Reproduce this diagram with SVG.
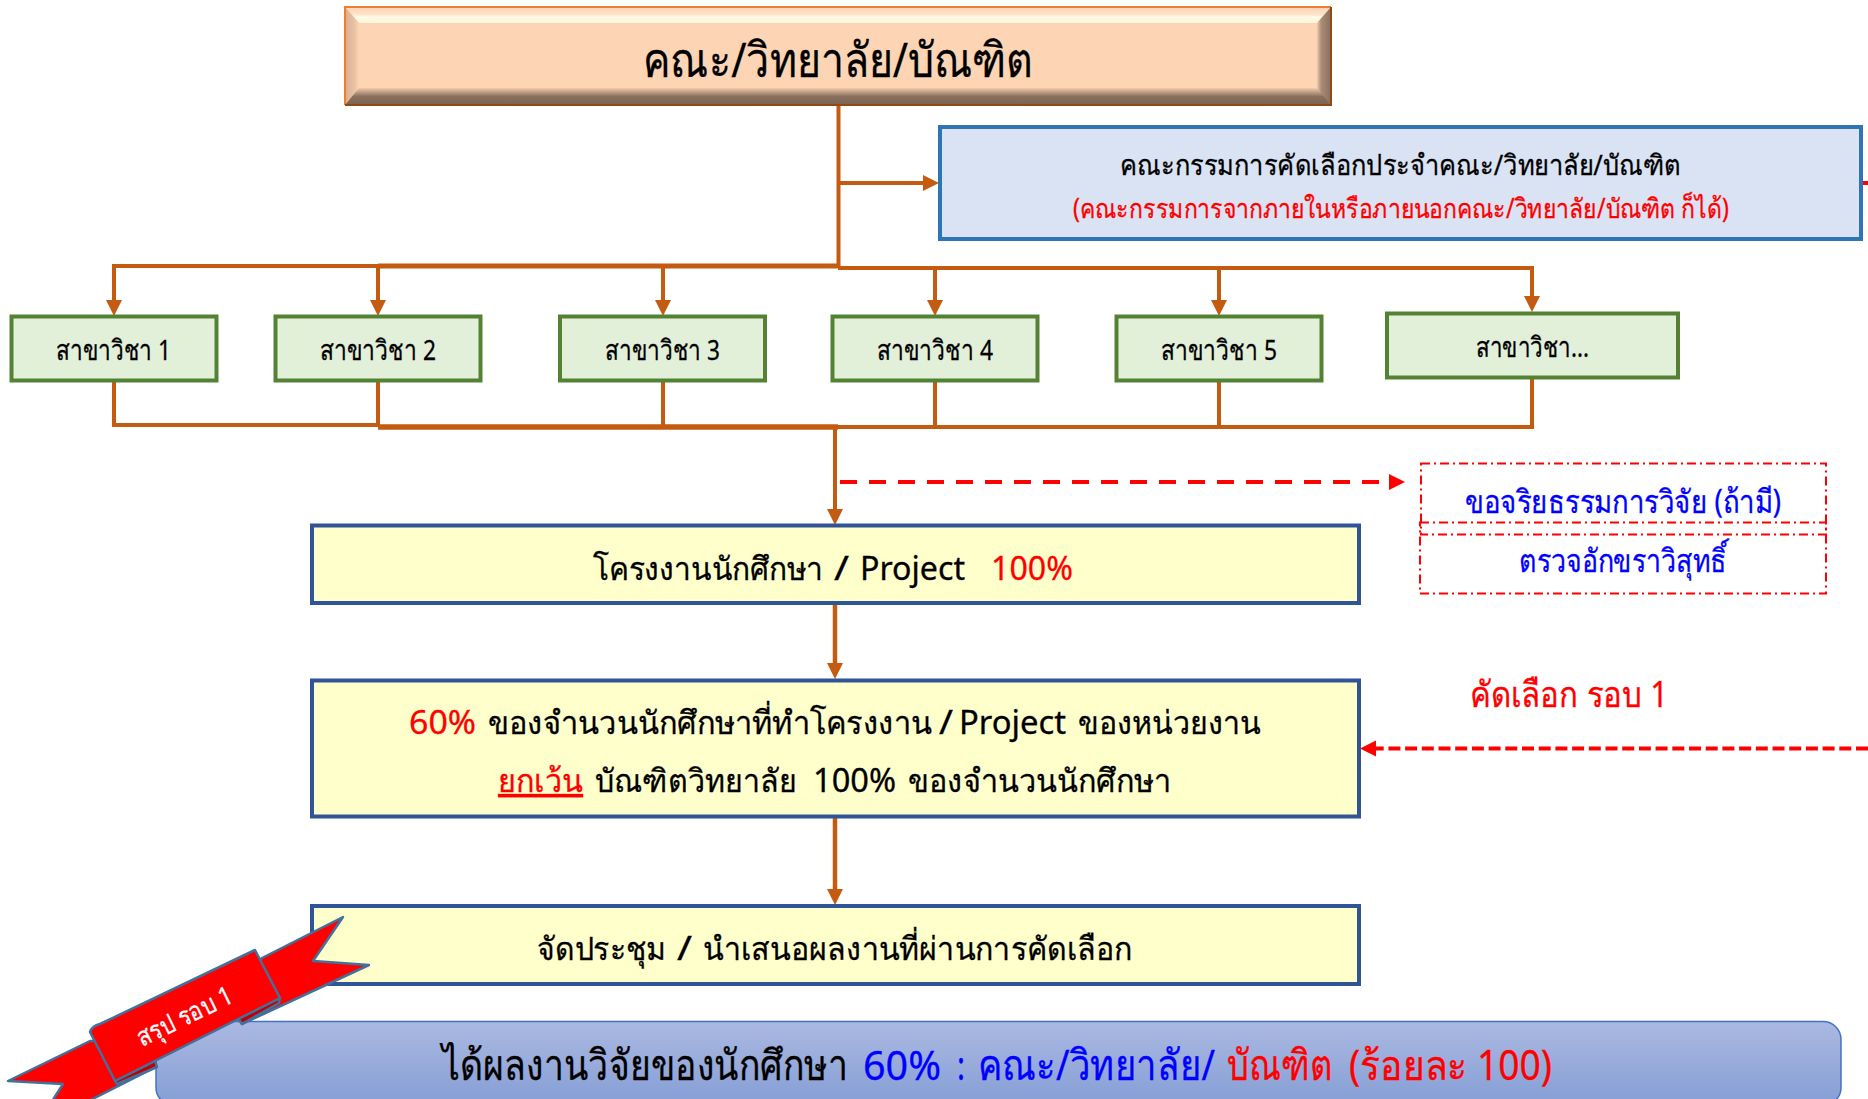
<svg xmlns="http://www.w3.org/2000/svg" width="1868" height="1099" viewBox="0 0 1868 1099">
<style>
text{font-family:"Noto Sans","DejaVu Sans","Liberation Sans",sans-serif;fill:#000;stroke:#000;stroke-width:.3}
text.r{fill:#f00;stroke:#f00}
text.b{fill:#00f;stroke:#00f}
.g rect{fill:#e2efd9;stroke:#548235;stroke-width:4}
.y rect{fill:#ffffcc;stroke:#2f5597;stroke-width:4}
.y text{font-size:32px}
.c{fill:none;stroke:#c55a11;stroke-width:4}
.dd{fill:none;stroke:#ff0000;stroke-width:2;stroke-dasharray:9 4 2 4}
</style>
<defs>
<marker id="a" markerUnits="userSpaceOnUse" markerWidth="17" markerHeight="17" refX="6" refY="8" orient="auto"><path d="M0 0L16 8L0 16Z" fill="#c55a11"/></marker>
<marker id="ar" markerUnits="userSpaceOnUse" markerWidth="17" markerHeight="17" refX="6" refY="8" orient="auto"><path d="M0 0L16 8L0 16Z" fill="#ff0000"/></marker>
<marker id="ar2" markerUnits="userSpaceOnUse" markerWidth="17" markerHeight="17" refX="-10" refY="8" orient="auto" overflow="visible"><path d="M0 0L16 8L0 16Z" fill="#ff0000"/></marker>
<linearGradient id="bg" x1="0" y1="1021" x2="0" y2="1099" gradientUnits="userSpaceOnUse"><stop offset="0" stop-color="#abb9e1"/><stop offset="1" stop-color="#88a0d6"/></linearGradient>
<linearGradient id="bt" x1="0" y1="0" x2="0" y2="1"><stop offset="0" stop-color="#fbd3b2"/><stop offset=".45" stop-color="#fee2c8"/><stop offset=".62" stop-color="#fffbe6"/><stop offset="1" stop-color="#fff6dc"/></linearGradient>
<linearGradient id="bb" x1="0" y1="0" x2="0" y2="1"><stop offset="0" stop-color="#f3cbac"/><stop offset=".2" stop-color="#c9a58b"/><stop offset=".5" stop-color="#89705f"/><stop offset="1" stop-color="#7a6353"/></linearGradient>
<linearGradient id="br" x1="0" y1="0" x2="1" y2="0"><stop offset="0" stop-color="#f0c9ab"/><stop offset=".3" stop-color="#a98c78"/><stop offset="1" stop-color="#8a6f5c"/></linearGradient>
<linearGradient id="bl" x1="0" y1="0" x2="1" y2="0"><stop offset="0" stop-color="#d8ae92"/><stop offset=".7" stop-color="#eac3a5"/><stop offset="1" stop-color="#fdd5b4"/></linearGradient>
</defs>
<g id="connectors">
<path class="c" d="M838.5 105V268"/>
<path class="c" d="M838.5 183H929" marker-end="url(#a)"/>
<path class="c" d="M838 266H114V306" marker-end="url(#a)"/>
<path class="c" d="M378 266V306" marker-end="url(#a)"/>
<path class="c" style="stroke-width:5" d="M378 266H838"/>
<path class="c" d="M663 267V306" marker-end="url(#a)"/>
<path class="c" d="M838 268H1532V302" marker-end="url(#a)"/>
<path class="c" d="M935 268V306" marker-end="url(#a)"/>
<path class="c" d="M1219 268V306" marker-end="url(#a)"/>
<path class="c" d="M114 380V425H378"/>
<path class="c" d="M378 380V427"/>
<path class="c" style="stroke-width:5.5" d="M378 427H838"/>
<path class="c" d="M663 380V427"/>
<path class="c" d="M935 380V427"/>
<path class="c" d="M1219 380V427"/>
<path class="c" d="M1532 377V427H838"/>
<path class="c" d="M835 427V515" marker-end="url(#a)"/>
<path class="c" style="stroke-width:4.5" d="M835 603V669" marker-end="url(#a)"/>
<path class="c" style="stroke-width:4.5" d="M835 816V895" marker-end="url(#a)"/>
<path d="M840 482H1379" fill="none" stroke="#ff0000" stroke-width="4" stroke-dasharray="17 12" marker-end="url(#ar2)"/>
<path d="M1868 748.500H1370" fill="none" stroke="#ff0000" stroke-width="4" stroke-dasharray="12 4.700" marker-end="url(#ar)"/>
<path d="M1862 183H1868" stroke="#ff0000" stroke-width="4"/>
</g>
<g id="top">
<rect x="345" y="7" width="986" height="98" fill="#fdd5b4"/>
<path d="M345 7H1331L1317 23H359Z" fill="url(#bt)"/>
<path d="M345 7L359 23V90L345 105Z" fill="url(#bl)"/>
<path d="M1331 7L1317 23V90L1331 105Z" fill="url(#br)"/>
<path d="M345 105L359 88H1317L1331 105Z" fill="url(#bb)"/>
<path d="M345 105V7H1331" fill="none" stroke="#ee7d31" stroke-width="2"/>
<path d="M1331 7V105H345" fill="none" stroke="#8f4a14" stroke-width="2"/>
<text x="643" y="77" font-size="48" textLength="390" lengthAdjust="spacingAndGlyphs">คณะ/วิทยาลัย/บัณฑิต</text>
</g>
<g id="committee">
<rect x="940" y="127" width="921" height="112" fill="#dae3f3" stroke="#2e75b6" stroke-width="4"/>
<text x="1120" y="175" font-size="28" textLength="560" lengthAdjust="spacingAndGlyphs">คณะกรรมการคัดเลือกประจำคณะ/วิทยาลัย/บัณฑิต</text>
<text x="1073" y="218" font-size="27" class="r" textLength="656" lengthAdjust="spacingAndGlyphs">(คณะกรรมการจากภายในหรือภายนอกคณะ/วิทยาลัย/บัณฑิต ก็ได้)</text>
</g>
<g id="dept1" class="g"><rect x="11.5" y="316.500" width="205" height="64"/><text x="56" y="360" font-size="28" textLength="115" lengthAdjust="spacingAndGlyphs">สาขาวิชา 1</text></g>
<g id="dept2" class="g"><rect x="275.5" y="316.500" width="205" height="64"/><text x="320" y="360" font-size="28" textLength="116" lengthAdjust="spacingAndGlyphs">สาขาวิชา 2</text></g>
<g id="dept3" class="g"><rect x="560" y="316.500" width="205" height="64"/><text x="605" y="360" font-size="28" textLength="115" lengthAdjust="spacingAndGlyphs">สาขาวิชา 3</text></g>
<g id="dept4" class="g"><rect x="832.5" y="316.500" width="205" height="64"/><text x="877" y="360" font-size="28" textLength="116" lengthAdjust="spacingAndGlyphs">สาขาวิชา 4</text></g>
<g id="dept5" class="g"><rect x="1116.5" y="316.500" width="205" height="64"/><text x="1161" y="360" font-size="28" textLength="116" lengthAdjust="spacingAndGlyphs">สาขาวิชา 5</text></g>
<g id="deptN" class="g"><rect x="1387" y="313.500" width="291" height="64"/><text x="1476" y="357" font-size="28" textLength="113" lengthAdjust="spacingAndGlyphs">สาขาวิชา...</text></g>
<g id="project" class="y"><rect x="312" y="525.500" width="1047" height="77.500"/>
<text x="593" y="580" textLength="230" lengthAdjust="spacingAndGlyphs">โครงงานนักศึกษา</text>
<text x="834" y="580" textLength="15" lengthAdjust="spacingAndGlyphs">/</text>
<text x="860" y="580" textLength="105" lengthAdjust="spacingAndGlyphs">Project</text>
<text x="991" y="580" class="r" textLength="82" lengthAdjust="spacingAndGlyphs">100%</text></g>
<g id="selected" class="y"><rect x="312" y="680.500" width="1047" height="136"/>
<text x="409" y="734" class="r" textLength="67" lengthAdjust="spacingAndGlyphs">60%</text>
<text x="488" y="734" textLength="444" lengthAdjust="spacingAndGlyphs">ของจำนวนนักศึกษาที่ทำโครงงาน</text>
<text x="939" y="734" textLength="14" lengthAdjust="spacingAndGlyphs">/</text>
<text x="959" y="734" textLength="107" lengthAdjust="spacingAndGlyphs">Project</text>
<text x="1078" y="734" textLength="183" lengthAdjust="spacingAndGlyphs">ของหน่วยงาน</text>
<text x="498" y="792" class="r" text-decoration="underline" textLength="85" lengthAdjust="spacingAndGlyphs">ยกเว้น</text>
<text x="595" y="792" textLength="202" lengthAdjust="spacingAndGlyphs">บัณฑิตวิทยาลัย</text>
<text x="813" y="792" textLength="83" lengthAdjust="spacingAndGlyphs">100%</text>
<text x="908" y="792" textLength="263" lengthAdjust="spacingAndGlyphs">ของจำนวนนักศึกษา</text></g>
<g id="present" class="y"><rect x="312" y="906" width="1047" height="78"/>
<text x="537" y="960" textLength="129" lengthAdjust="spacingAndGlyphs">จัดประชุม</text>
<text x="677" y="960" textLength="15" lengthAdjust="spacingAndGlyphs">/</text>
<text x="703" y="960" textLength="429" lengthAdjust="spacingAndGlyphs">นำเสนอผลงานที่ผ่านการคัดเลือก</text></g>
<g id="ethics"><rect x="1421" y="463.500" width="405" height="71" class="dd"/><text x="1465" y="513" font-size="32" class="b" textLength="316" lengthAdjust="spacingAndGlyphs">ขอจริยธรรมการวิจัย (ถ้ามี)</text></g>
<g id="proof"><rect x="1420" y="522.500" width="406" height="71" class="dd"/><text x="1519" y="572" font-size="32" class="b" textLength="208" lengthAdjust="spacingAndGlyphs">ตรวจอักขราวิสุทธิ์</text></g>
<g id="round1"><text x="1470" y="707" font-size="36" class="r" textLength="198" lengthAdjust="spacingAndGlyphs">คัดเลือก รอบ 1</text></g>
<g id="result"><rect x="156" y="1021.500" width="1685" height="84" rx="18" fill="url(#bg)" stroke="#4472c4" stroke-width="1.5"/>
<text x="442" y="1080" font-size="42" textLength="406" lengthAdjust="spacingAndGlyphs">ได้ผลงานวิจัยของนักศึกษา</text>
<text x="863" y="1080" font-size="40" class="b" textLength="78" lengthAdjust="spacingAndGlyphs">60%</text>
<text x="957" y="1080" font-size="40" class="b" textLength="8" lengthAdjust="spacingAndGlyphs">:</text>
<text x="978" y="1080" font-size="42" class="b" textLength="237" lengthAdjust="spacingAndGlyphs">คณะ/วิทยาลัย/</text>
<text x="1227" y="1080" font-size="42" class="r" textLength="105" lengthAdjust="spacingAndGlyphs">บัณฑิต</text>
<text x="1349" y="1080" font-size="41" class="r" textLength="203" lengthAdjust="spacingAndGlyphs">(ร้อยละ 100)</text></g>
<g id="ribbon" stroke="#41719c" stroke-width="2.5" stroke-linejoin="round">
<path d="M262 958L343 917L313 961L369 965L242 1024L225 1000Z" fill="#ff0000"/>
<path d="M90 1041L8 1081L63 1084L35 1128L156 1067L130 1040Z" fill="#ff0000"/>
<path d="M115 1081L155 1061L157 1067L117 1084Z" fill="#c00000"/>
<path d="M280 998L238 1018L242 1024L279 1003Z" fill="#c00000"/>
<path d="M90 1032Q92 1026 100 1024L255 950L280 998L115 1081Z" fill="#ff0000"/>
<text x="185" y="1025" text-anchor="middle" font-size="26" transform="rotate(-26 185 1017)" textLength="103" lengthAdjust="spacingAndGlyphs" style="fill:#fff;stroke:#fff">สรุป รอบ 1</text>
</g>
</svg>
